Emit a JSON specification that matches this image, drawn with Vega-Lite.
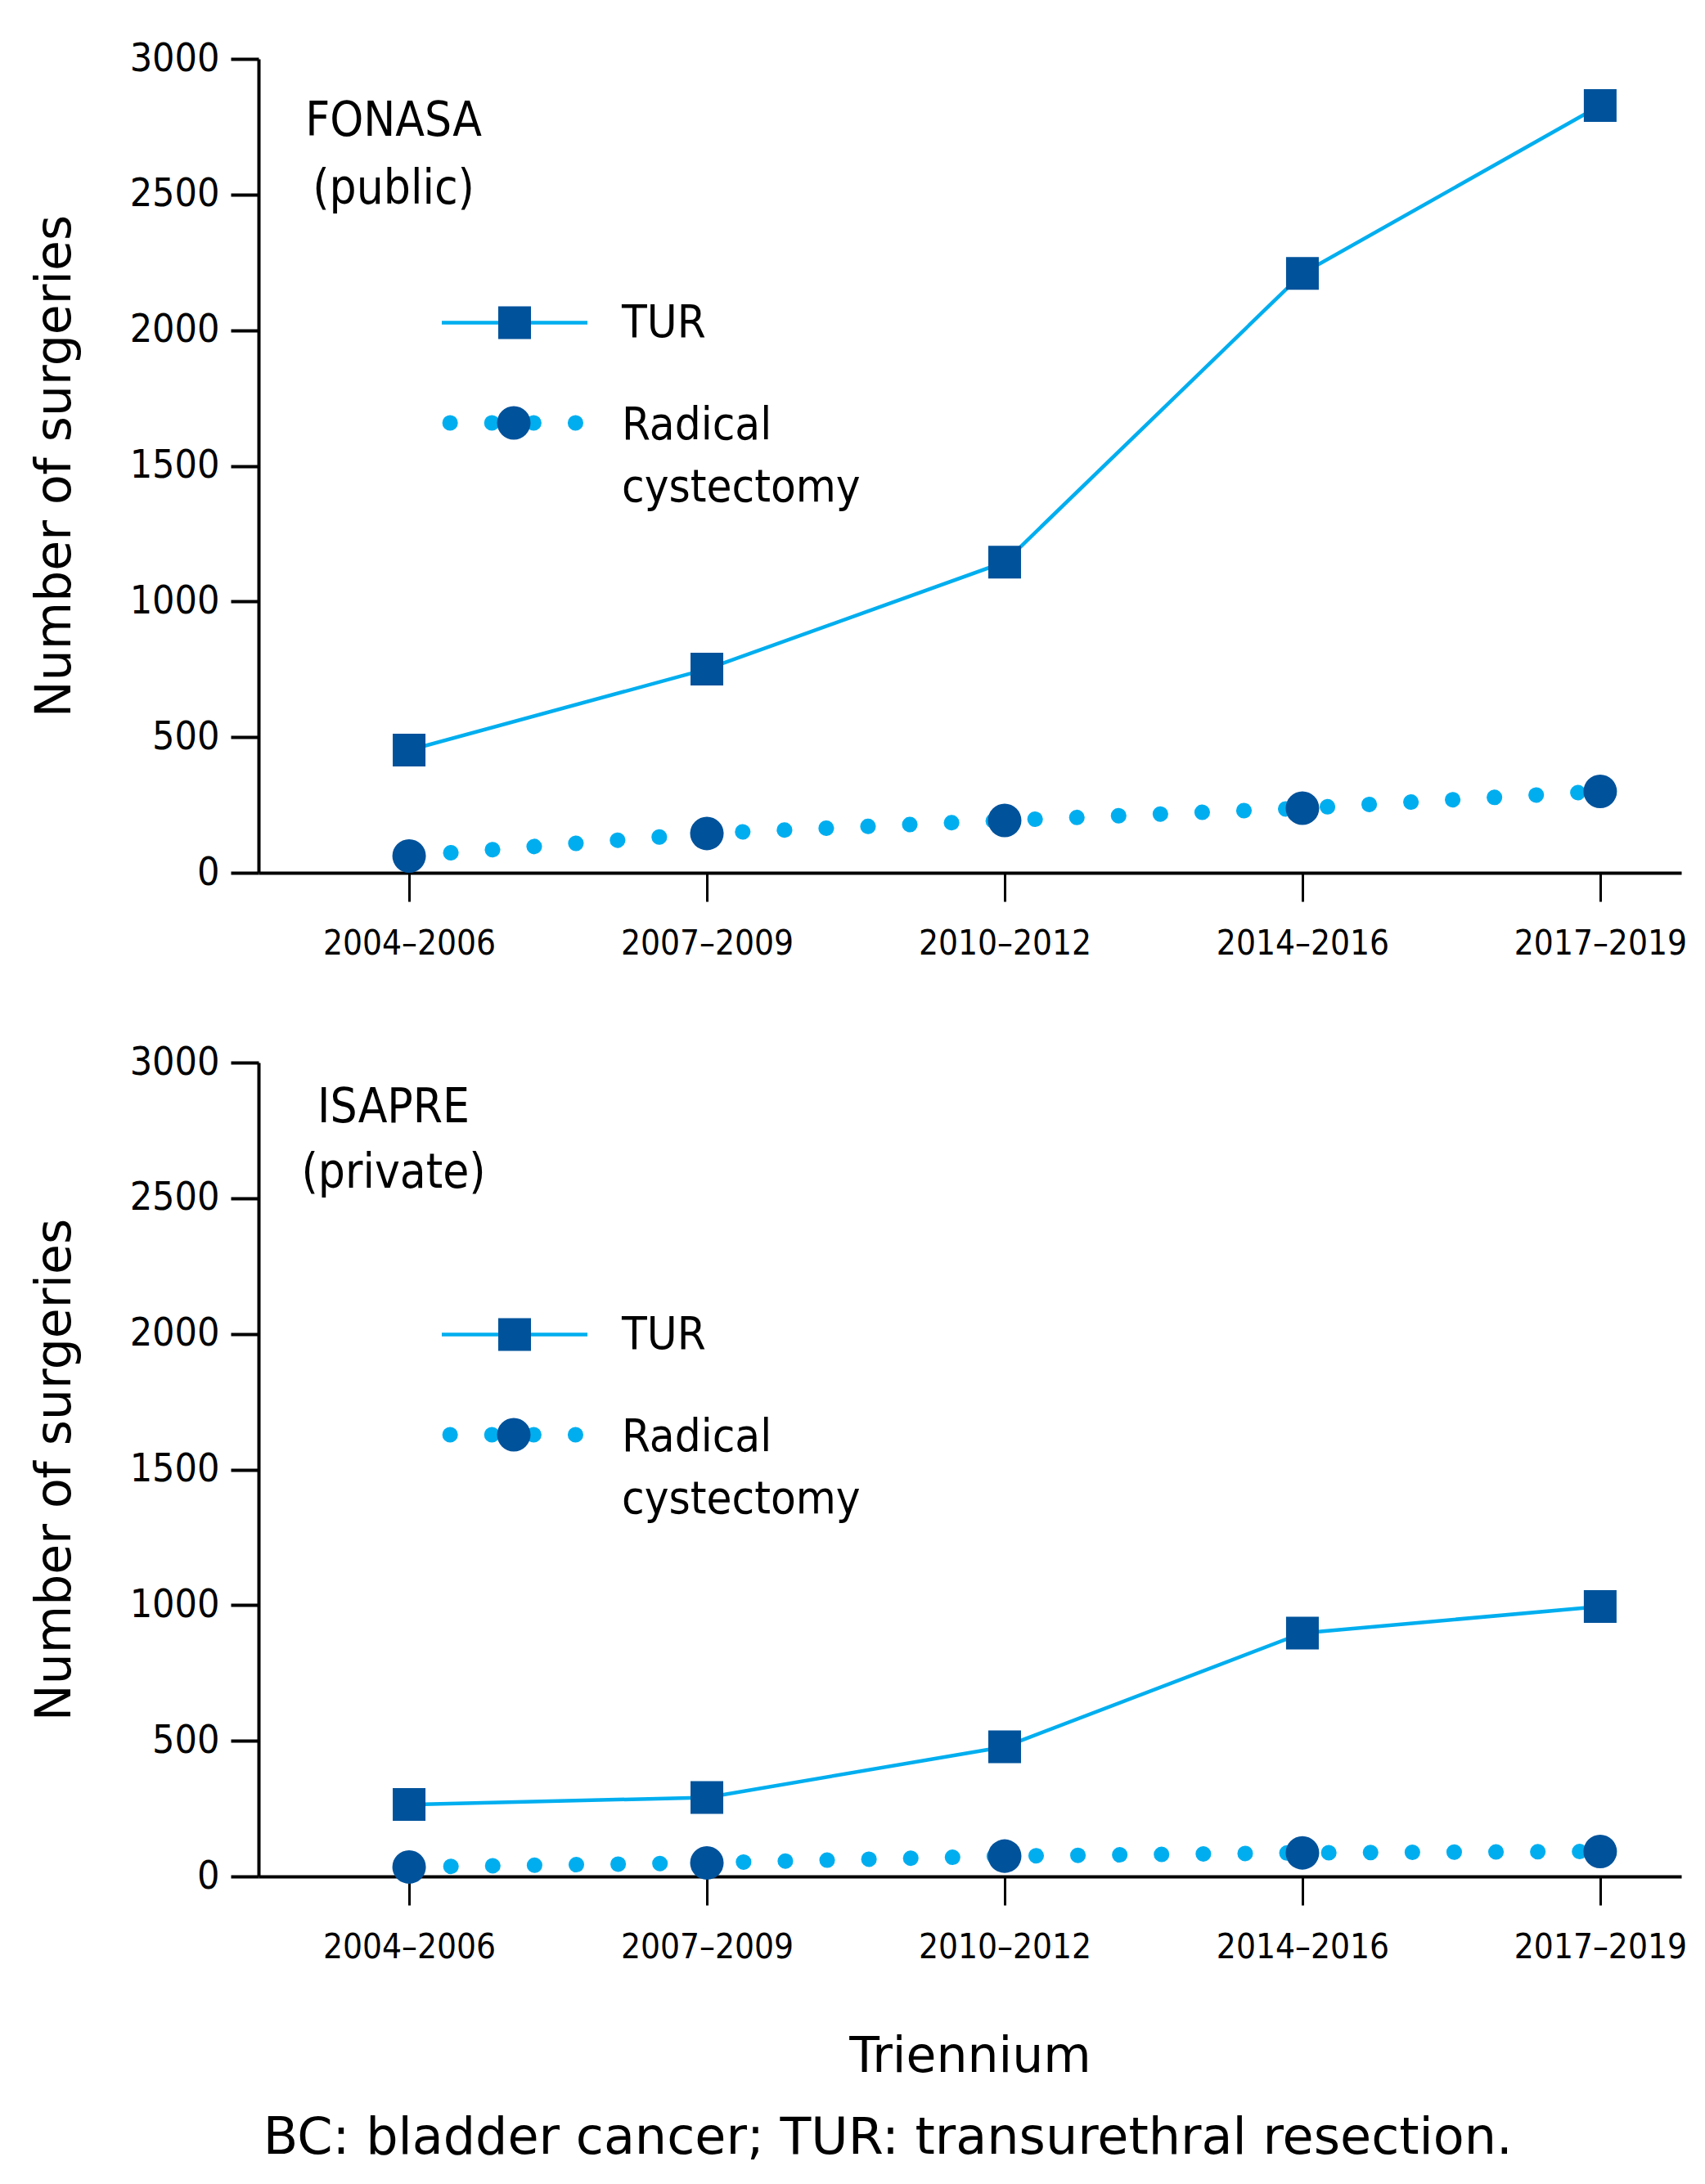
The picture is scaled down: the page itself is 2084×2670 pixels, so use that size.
{
  "$schema": "https://vega.github.io/schema/vega-lite/v6.json",
  "padding": {"left": 37, "top": 48, "right": 10, "bottom": 10},
  "background": "white",
  "config": {
    "view": {"stroke": null},
    "font": "DejaVu Sans Condensed",
    "axis": {
      "domainColor": "black", "tickColor": "black", "labelColor": "black", "titleColor": "black",
      "labelFont": "DejaVu Sans Condensed", "titleFont": "DejaVu Sans", "titleFontWeight": "normal",
      "titleFontSize": 60, "grid": false, "labelLimit": 0
    },
    "legend": {"padding": 0, "titleFontSize": 0, "labelFont": "DejaVu Sans Condensed", "labelFontSize": 56, "labelColor": "black", "labelLimit": 600}
  },
  "datasets": {
    "surgeries": [
      {"system": "FONASA", "procedure": "TUR", "period": "2004–2006", "count": 452},
      {"system": "FONASA", "procedure": "TUR", "period": "2007–2009", "count": 751},
      {"system": "FONASA", "procedure": "TUR", "period": "2010–2012", "count": 1145},
      {"system": "FONASA", "procedure": "TUR", "period": "2014–2016", "count": 2209},
      {"system": "FONASA", "procedure": "TUR", "period": "2017–2019", "count": 2828},
      {"system": "FONASA", "procedure": "Radical cystectomy", "period": "2004–2006", "count": 62},
      {"system": "FONASA", "procedure": "Radical cystectomy", "period": "2007–2009", "count": 145},
      {"system": "FONASA", "procedure": "Radical cystectomy", "period": "2010–2012", "count": 193},
      {"system": "FONASA", "procedure": "Radical cystectomy", "period": "2014–2016", "count": 238},
      {"system": "FONASA", "procedure": "Radical cystectomy", "period": "2017–2019", "count": 300},
      {"system": "ISAPRE", "procedure": "TUR", "period": "2004–2006", "count": 265},
      {"system": "ISAPRE", "procedure": "TUR", "period": "2007–2009", "count": 291},
      {"system": "ISAPRE", "procedure": "TUR", "period": "2010–2012", "count": 478},
      {"system": "ISAPRE", "procedure": "TUR", "period": "2014–2016", "count": 897},
      {"system": "ISAPRE", "procedure": "TUR", "period": "2017–2019", "count": 995},
      {"system": "ISAPRE", "procedure": "Radical cystectomy", "period": "2004–2006", "count": 35},
      {"system": "ISAPRE", "procedure": "Radical cystectomy", "period": "2007–2009", "count": 50},
      {"system": "ISAPRE", "procedure": "Radical cystectomy", "period": "2010–2012", "count": 75},
      {"system": "ISAPRE", "procedure": "Radical cystectomy", "period": "2014–2016", "count": 87},
      {"system": "ISAPRE", "procedure": "Radical cystectomy", "period": "2017–2019", "count": 92}
    ],
    "notes": [
      {"system": "FONASA", "period": "2004–2006", "count": 2717, "note": "FONASA\n(public)"},
      {"system": "ISAPRE", "period": "2004–2006", "count": 2780, "note": "ISAPRE\n(private)"}
    ]
  },
  "title": {
    "text": "BC: bladder cancer; TUR: transurethral resection.",
    "orient": "bottom", "anchor": "middle", "font": "DejaVu Sans", "fontSize": 62,
    "fontWeight": "normal", "color": "black", "offset": 40, "dx": 36
  },
  "spacing": 101,
  "vconcat": [
    {
      "width": 1739, "height": 995,
      "data": {"name": "surgeries"},
      "transform": [{"filter": "datum.system == 'FONASA'"}],
      "encoding": {
        "x": {"field": "period", "type": "ordinal", "sort": null,
          "scale": {"type": "point", "padding": 0.389, "align": 0.65},
          "axis": {"title": null, "labelAngle": 0, "labelFontSize": 42, "labelPadding": 31, "tickSize": 35, "tickWidth": 3, "domainWidth": 4}},
        "y": {"field": "count", "type": "quantitative",
          "scale": {"domain": [0, 3000]},
          "axis": {"title": "Number of surgeries", "values": [0, 500, 1000, 1500, 2000, 2500, 3000], "format": "d", "labelFontSize": 48, "labelPadding": 14, "tickSize": 34, "tickWidth": 4, "domainWidth": 4, "titlePadding": 60}}
      },
      "layer": [
        {
          "transform": [{"filter": "datum.procedure == 'TUR'"}],
          "mark": {"type": "line", "strokeWidth": 4.5},
          "encoding": {"stroke": {"field": "procedure", "type": "nominal", "scale": {"range": ["#00aeef"]},
            "legend": {"orient": "none", "legendX": 221.5, "legendY": 231, "title": null, "symbolType": "stroke", "symbolSize": 31684, "symbolStrokeWidth": 4.5, "labelOffset": 39.5, "zindex": 1}}}
        },
        {
          "transform": [{"filter": "datum.procedure == 'Radical cystectomy'"}],
          "mark": {"type": "line", "strokeWidth": 19, "strokeCap": "round", "strokeDash": [0.1, 51]},
          "encoding": {"stroke": {"field": "procedure", "type": "nominal", "scale": {"range": ["#00aeef"]},
            "legend": {"orient": "none", "legendX": 214.5, "legendY": 346.5, "title": null, "symbolType": "stroke", "symbolSize": 31684, "symbolStrokeWidth": 19, "symbolDash": [0.1, 51], "symbolDashOffset": 41, "labelOffset": 32.5, "labelBaseline": "alphabetic",
              "labelExpr": "['Radical', 'cystectomy']", "zindex": 1,
              "encoding": {"labels": {"dy": {"value": 20}, "lineHeight": {"value": 76}}, "symbols": {"strokeCap": {"value": "round"}}}}}}
        },
        {
          "transform": [{"filter": "datum.procedure == 'TUR'"}],
          "mark": {"type": "point", "filled": true, "opacity": 1, "size": 1600, "color": "#00529b"},
          "encoding": {"shape": {"field": "procedure", "type": "nominal", "scale": {"range": ["square"]},
            "legend": {"orient": "none", "legendX": 285, "legendY": 294.4, "title": null, "symbolSize": 1600, "symbolFillColor": "#00529b", "symbolStrokeWidth": 0, "symbolOpacity": 1, "labelExpr": "''", "zindex": 2}}}
        },
        {
          "transform": [{"filter": "datum.procedure == 'Radical cystectomy'"}],
          "mark": {"type": "point", "filled": true, "opacity": 1, "size": 1681, "color": "#00529b"},
          "encoding": {"shape": {"field": "procedure", "type": "nominal", "scale": {"range": ["circle"]},
            "legend": {"orient": "none", "legendX": 284, "legendY": 417, "title": null, "symbolSize": 1681, "symbolFillColor": "#00529b", "symbolStrokeWidth": 0, "symbolOpacity": 1, "labelExpr": "''", "zindex": 2}}}
        },
        {
          "data": {"name": "notes"},
          "transform": [{"filter": "datum.system == 'FONASA'"}],
          "mark": {"type": "text", "font": "DejaVu Sans Condensed", "fontSize": 58, "lineBreak": "\n", "lineHeight": 83, "align": "center", "baseline": "alphabetic", "dx": -19, "color": "black"},
          "encoding": {"text": {"field": "note"}}
        }
      ],
      "resolve": {"scale": {"stroke": "independent", "shape": "independent"}, "legend": {"stroke": "independent", "shape": "independent"}}
    },
    {
      "width": 1739, "height": 995,
      "data": {"name": "surgeries"},
      "transform": [{"filter": "datum.system == 'ISAPRE'"}],
      "encoding": {
        "x": {"field": "period", "type": "ordinal", "sort": null,
          "scale": {"type": "point", "padding": 0.389, "align": 0.65},
          "axis": {"title": "Triennium", "labelAngle": 0, "labelFontSize": 42, "labelPadding": 31, "tickSize": 35, "tickWidth": 3, "domainWidth": 4, "titlePadding": 84}},
        "y": {"field": "count", "type": "quantitative",
          "scale": {"domain": [0, 3000]},
          "axis": {"title": "Number of surgeries", "values": [0, 500, 1000, 1500, 2000, 2500, 3000], "format": "d", "labelFontSize": 48, "labelPadding": 14, "tickSize": 34, "tickWidth": 4, "domainWidth": 4, "titlePadding": 60}}
      },
      "layer": [
        {
          "transform": [{"filter": "datum.procedure == 'TUR'"}],
          "mark": {"type": "line", "strokeWidth": 4.5},
          "encoding": {"stroke": {"field": "procedure", "type": "nominal", "scale": {"range": ["#00aeef"]},
            "legend": {"orient": "none", "legendX": 221.5, "legendY": 241, "title": null, "symbolType": "stroke", "symbolSize": 31684, "symbolStrokeWidth": 4.5, "labelOffset": 39.5, "zindex": 1}}}
        },
        {
          "transform": [{"filter": "datum.procedure == 'Radical cystectomy'"}],
          "mark": {"type": "line", "strokeWidth": 19, "strokeCap": "round", "strokeDash": [0.1, 51]},
          "encoding": {"stroke": {"field": "procedure", "type": "nominal", "scale": {"range": ["#00aeef"]},
            "legend": {"orient": "none", "legendX": 214.5, "legendY": 356.5, "title": null, "symbolType": "stroke", "symbolSize": 31684, "symbolStrokeWidth": 19, "symbolDash": [0.1, 51], "symbolDashOffset": 41, "labelOffset": 32.5, "labelBaseline": "alphabetic",
              "labelExpr": "['Radical', 'cystectomy']", "zindex": 1,
              "encoding": {"labels": {"dy": {"value": 20}, "lineHeight": {"value": 76}}, "symbols": {"strokeCap": {"value": "round"}}}}}}
        },
        {
          "transform": [{"filter": "datum.procedure == 'TUR'"}],
          "mark": {"type": "point", "filled": true, "opacity": 1, "size": 1600, "color": "#00529b"},
          "encoding": {"shape": {"field": "procedure", "type": "nominal", "scale": {"range": ["square"]},
            "legend": {"orient": "none", "legendX": 285, "legendY": 304.4, "title": null, "symbolSize": 1600, "symbolFillColor": "#00529b", "symbolStrokeWidth": 0, "symbolOpacity": 1, "labelExpr": "''", "zindex": 2}}}
        },
        {
          "transform": [{"filter": "datum.procedure == 'Radical cystectomy'"}],
          "mark": {"type": "point", "filled": true, "opacity": 1, "size": 1681, "color": "#00529b"},
          "encoding": {"shape": {"field": "procedure", "type": "nominal", "scale": {"range": ["circle"]},
            "legend": {"orient": "none", "legendX": 284, "legendY": 427, "title": null, "symbolSize": 1681, "symbolFillColor": "#00529b", "symbolStrokeWidth": 0, "symbolOpacity": 1, "labelExpr": "''", "zindex": 2}}}
        },
        {
          "data": {"name": "notes"},
          "transform": [{"filter": "datum.system == 'ISAPRE'"}],
          "mark": {"type": "text", "font": "DejaVu Sans Condensed", "fontSize": 58, "lineBreak": "\n", "lineHeight": 80, "align": "center", "baseline": "alphabetic", "dx": -19, "color": "black"},
          "encoding": {"text": {"field": "note"}}
        }
      ],
      "resolve": {"scale": {"stroke": "independent", "shape": "independent"}, "legend": {"stroke": "independent", "shape": "independent"}}
    }
  ],
  "resolve": {"scale": {"stroke": "independent", "shape": "independent"}, "legend": {"stroke": "independent", "shape": "independent"}}
}
